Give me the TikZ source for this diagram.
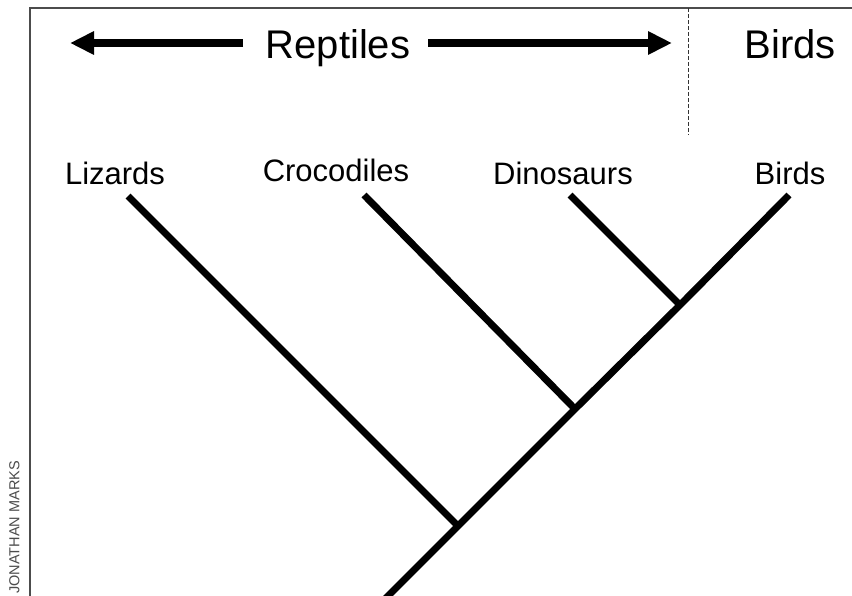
\documentclass[tikz,border=0pt]{standalone}
\usepackage{fontspec}
\setmainfont{Liberation Sans}
\usetikzlibrary{arrows.meta}
\tikzset{
  frame/.style={line width=2pt, black!70},
  bigtxt/.style={font=\fontsize{40}{42}\selectfont, inner sep=0pt, anchor=base},
  taxon/.style={font=\fontsize{31}{33}\selectfont, inner sep=0pt, anchor=base},
  branch/.style={line width=7pt, line cap=butt},
  bigarrow/.style={line width=8pt, -{Triangle[length=24pt,width=22pt]}},
  credit/.style={font=\fontsize{14.5}{15}\selectfont, text=black!70, inner sep=0pt, rotate=90, anchor=base west}
}
\begin{document}
\begin{tikzpicture}[x=1pt,y=-1pt]
\useasboundingbox (0,0) rectangle (852,595);
\clip (0,0) rectangle (852,595);
\fill[white] (0,0) rectangle (852,595);
% frame
\coordinate (fbl) at (30,605);
\coordinate (ftl) at (30,8);
\coordinate (ftr) at (862,8);
\draw[frame] (fbl) -- (ftl) -- (ftr);
% header
\node[bigtxt] (rep) at (338,58) {Reptiles};
\node[bigtxt] (birdsTop) at (790,58) {Birds};
\coordinate (ltip) at (70,43);
\coordinate (lend) at (243,43);
\coordinate (rstart) at (428,43);
\coordinate (rtip) at (672,43);
\draw[bigarrow] (lend) -- (ltip);
\draw[bigarrow] (rstart) -- (rtip);
\coordinate (dtop) at (688,8);
\coordinate (dbot) at (688,135);
\draw[black!80, line width=1pt, dash pattern=on 4pt off 2pt] (dtop) -- (dbot);
% labels
\node[taxon] (liz) at (115,184) {Lizards};
\node[taxon] (cro) at (336,181) {Crocodiles};
\node[taxon] (din) at (563,184) {Dinosaurs};
\node[taxon] (bir) at (790,184) {Birds};
% tree
\coordinate (lizT) at (128,196);
\coordinate (croT) at (364,195);
\coordinate (dinT) at (570,195);
\coordinate (birT) at (789,195);
\coordinate (jd) at (680,305);
\coordinate (jc) at (575,409);
\coordinate (jl) at (458,526);
\coordinate (root) at (380,604);
\draw[branch] (birT) -- (jd) -- (jc) -- (jl) -- (root);
\draw[branch] (lizT) -- (jl);
\draw[branch] (croT) -- (jc);
\draw[branch] (dinT) -- (jd);
% credit
\node[credit] (cr) at (19.5,594) {JONATHAN MARKS};
\end{tikzpicture}
\end{document}
